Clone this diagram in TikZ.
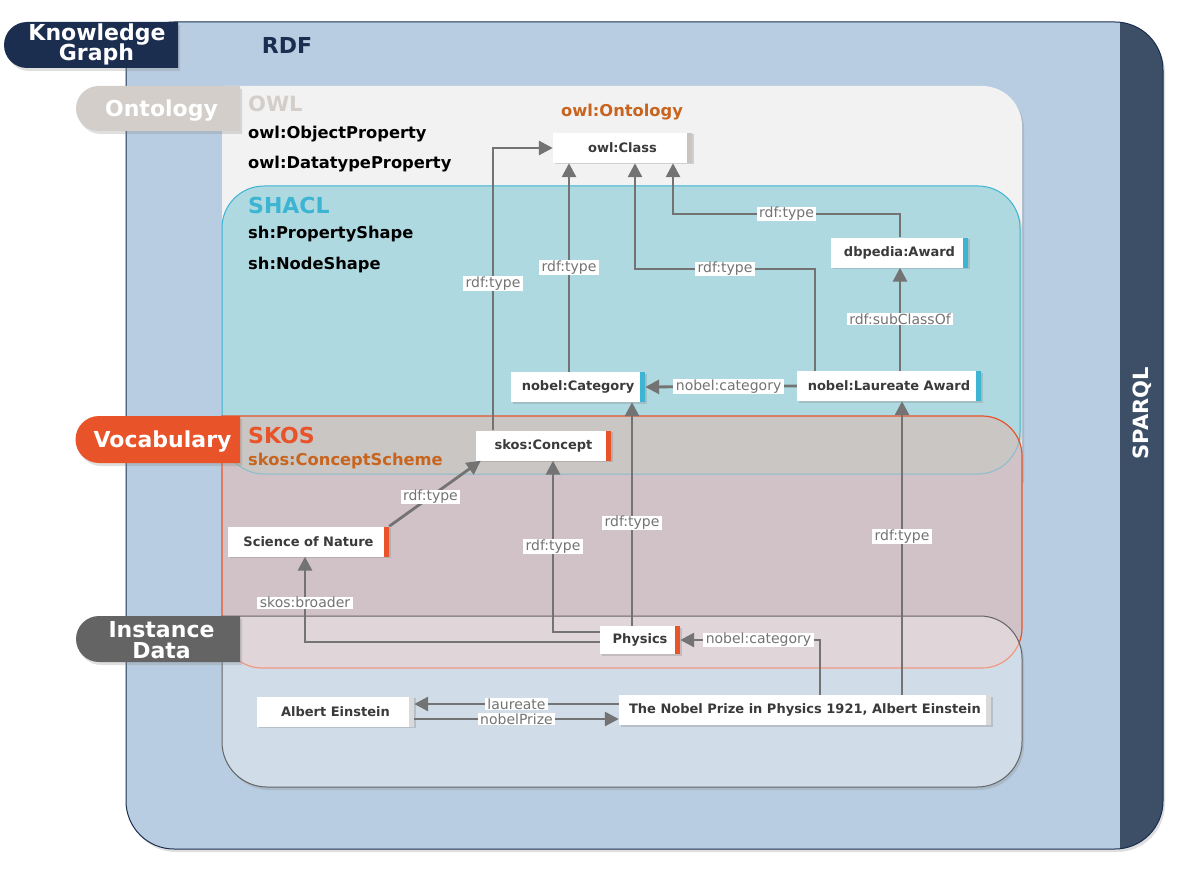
\documentclass[tikz,border=0pt]{standalone}
\usepackage{fontspec}
\setmainfont{DejaVu Sans}
\usetikzlibrary{arrows.meta,shadows}

\definecolor{kgnavy}{HTML}{1C2E50}
\definecolor{rdfblue}{HTML}{B8CDE1}
\definecolor{sparqlblue}{HTML}{3C4F67}
\definecolor{owlgray}{HTML}{F2F2F2}
\definecolor{owltab}{HTML}{D3CEC9}
\definecolor{shaclfill}{HTML}{AED9E0}
\definecolor{shaclline}{HTML}{3CB4D2}
\definecolor{skosred}{HTML}{E8532A}
\definecolor{skosfill}{HTML}{D1C2C7}
\definecolor{skosover}{HTML}{C9C6C3}
\definecolor{ochre}{HTML}{C8641E}
\definecolor{instgray}{HTML}{646464}
\definecolor{instfill}{HTML}{D0DDE9}
\definecolor{instover}{HTML}{E0D6DA}
\definecolor{linkgray}{HTML}{737373}
\definecolor{termtext}{HTML}{3A3A3A}
\definecolor{stripegray}{HTML}{C9C4BF}
\definecolor{stripelight}{HTML}{DADADA}

\newcommand\fs[1]{\fontsize{#1}{#1}\selectfont}

\tikzset{
  term/.style={fill=white, minimum height=30pt, inner sep=0pt, text=termtext,
    font=\fs{13}\bfseries,
    drop shadow={opacity=.3, shadow xshift=1.5pt, shadow yshift=-1.5pt},
    path picture={\fill[#1] ([xshift=-5pt]path picture bounding box.north east)
      rectangle (path picture bounding box.south east);}},
  link/.style={draw=linkgray, line width=2.8pt,
    -{Triangle[length=14pt,width=14pt]}},
  lbl/.style={fill=white, text=linkgray, font=\fs{14},
    inner xsep=2.5pt, inner ysep=0.5pt},
  head/.style={font=\fs{22}\bfseries, inner sep=0pt, anchor=base west},
  sub/.style={font=\fs{16.3}\bfseries, inner sep=0pt, anchor=base west},
  tab/.style={font=\fs{22}\bfseries, text=white, inner sep=0pt, anchor=base},
  layershadow/.style={drop shadow={opacity=.25, shadow xshift=2pt,
    shadow yshift=-3pt}}
}

\begin{document}
\begin{tikzpicture}[x=1pt, y=1pt]

\newcommand\shaclbox{(222,-186) rectangle (1020,-474)}
\newcommand\vocabpath{(222,-416) -- (982,-416)
  arc[start angle=90, end angle=0, radius=40] -- (1022,-628)
  arc[start angle=0, end angle=-90, radius=40] -- (262,-668)
  arc[start angle=270, end angle=180, radius=40] -- cycle}
\newcommand\instpath{(222,-616) -- (980,-616)
  arc[start angle=90, end angle=0, radius=42] -- (1022,-742)
  arc[start angle=0, end angle=-90, radius=45] -- (267,-787)
  arc[start angle=270, end angle=180, radius=45] -- cycle}

\useasboundingbox (0,0) rectangle (1200,-872);

%% RDF layer and SPARQL bar
\fill[rdfblue, layershadow, rounded corners=48pt] (126,-22) rectangle (1163,-849);
\begin{scope}
\clip[rounded corners=48pt] (126,-22) rectangle (1163,-849);
\fill[sparqlblue] (1120,0) rectangle (1200,-872);
\end{scope}
\draw[kgnavy, line width=1pt, rounded corners=48pt] (126,-22) rectangle (1163,-849);
\node[tab, anchor=center, rotate=90, font=\fs{21}\bfseries] (sparql) at (1142,-413) {SPARQL};

\fill[kgnavy, layershadow] (178,-22) -- (27,-22)
  arc[start angle=90, end angle=270, radius=23] -- (178,-68) -- cycle;
\node[tab] (kgtop) at (97,-41) {Knowledge};
\node[tab] (kgbottom) at (96.5,-61) {Graph};
\node[tab, text=kgnavy] (rdf) at (287,-54) {RDF};

%% ontology
\fill[owlgray, layershadow] (222,-86) -- (982,-86)
  arc[start angle=90, end angle=0, radius=40] -- (1022,-480) -- (222,-480) -- cycle;
\fill[owltab, layershadow] (240,-86) -- (98.5,-86)
  arc[start angle=90, end angle=270, radius=22.5] -- (240,-131) -- cycle;
\node[tab] (onto) at (161.5,-117) {Ontology};
\node[head, font=\fs{21}\bfseries, text=owltab] (owl) at (248,-112) {OWL};
\node[sub] (objprop) at (248,-139) {owl:ObjectProperty};
\node[sub] (dtprop) at (248,-169) {owl:DatatypeProperty};
\node[sub, anchor=base, text=ochre] (ontology) at (622,-117) {owl:Ontology};

%% shacl
\fill[shaclfill, layershadow, rounded corners=42pt] \shaclbox;
\draw[shaclline, line width=1pt, rounded corners=42pt] \shaclbox;
\node[head, text=shaclline] (shacl) at (248,-213) {SHACL};
\node[sub] (propshape) at (248,-238) {sh:PropertyShape};
\node[sub] (nodeshape) at (248,-269) {sh:NodeShape};

%% vocabulary
\fill[skosfill] \vocabpath;
\begin{scope}
\clip[rounded corners=42pt] \shaclbox;
\fill[skosover] \vocabpath;
\end{scope}
\begin{scope}
\clip \vocabpath;
\draw[shaclline!45!skosover, line width=1pt, rounded corners=42pt] \shaclbox;
\end{scope}
\draw[skosred, line width=1.2pt] \vocabpath;

%% instance data
\fill[instfill, layershadow] \instpath;
\begin{scope}
\clip \vocabpath;
\fill[instover] \instpath;
\end{scope}
\begin{scope}
\clip \instpath;
\draw[skosred!60!white, line width=1.2pt] \vocabpath;
\end{scope}
\draw[instgray, line width=1pt] \instpath;

\fill[skosred, layershadow] (240,-416) -- (99,-416)
  arc[start angle=90, end angle=270, radius=23.5] -- (240,-463) -- cycle;
\node[tab] (vocab) at (162.5,-447) {Vocabulary};
\node[head, text=skosred] (skos) at (248,-443) {SKOS};
\node[sub, text=ochre] (scheme) at (248,-465) {skos:ConceptScheme};

\fill[instgray, layershadow] (240,-616) -- (99,-616)
  arc[start angle=90, end angle=270, radius=23] -- (240,-662) -- cycle;
\node[tab] (insttop) at (161.5,-637) {Instance};
\node[tab] (instbottom) at (161.5,-658) {Data};

%% terms
\node[term=stripegray, minimum width=139pt] (owlclass) at (622.5,-148) {owl:Class};
\node[term=shaclline, minimum width=137pt] (award) at (899.5,-252.5) {dbpedia:Award};
\node[term=shaclline, minimum width=134pt] (category) at (578,-387) {nobel:Category};
\node[term=shaclline, minimum width=184pt] (laureate) at (889,-386) {nobel:Laureate Award};
\node[term=skosred, minimum width=135pt] (concept) at (543.5,-445.5) {skos:Concept};
\node[term=skosred, minimum width=161pt] (nature) at (308.5,-541.5) {Science of Nature};
\node[term=skosred, minimum width=80pt, minimum height=28pt] (physics) at (640,-640) {Physics};
\node[term=stripelight, minimum width=157pt] (einstein) at (335.5,-711.5) {Albert Einstein};
\node[term=stripelight, minimum width=372pt] (prize) at (805,-710)
  {The Nobel Prize in Physics 1921, Albert Einstein};

%% connector columns and rows
\coordinate (colA) at (493,0);
\coordinate (colB) at (569,0);
\coordinate (colC) at (635,0);
\coordinate (colD) at (673,0);
\coordinate (colE) at (815,0);
\coordinate (colF) at (900,0);
\coordinate (colG) at (553,0);
\coordinate (colH) at (305,0);
\coordinate (colI) at (632,0);
\coordinate (colJ) at (820,0);
\coordinate (colK) at (902,0);
\coordinate (rowA) at (0,-269);
\coordinate (rowB) at (0,-214);

\draw[link] (colA |- concept.north) |- (owlclass.west) node[lbl, pos=.26] {rdf:type};
\draw[link] (colB |- category.north) -- (colB |- owlclass.south) node[lbl, midway] {rdf:type};
\draw[link] (colE |- laureate.north) -- (colE |- rowA) -- (colC |- rowA)
  node[lbl, midway] {rdf:type} -- (colC |- owlclass.south);
\draw[link] (colF |- award.north) -- (colF |- rowB) -- (colD |- rowB)
  node[lbl, midway] {rdf:type} -- (colD |- owlclass.south);
\draw[link] (colF |- laureate.north) -- (colF |- award.south) node[lbl, midway] {rdf:subClassOf};
\draw[link] (laureate.west) -- (category.east) node[lbl, pos=.45] {nobel:category};
\draw[link] (nature.north east) -- ([xshift=5pt]concept.south west) node[lbl, pos=.45] {rdf:type};
\draw[link] ([yshift=-2pt]physics.west) -| (colH |- nature.south) node[lbl, pos=.73] {skos:broader};
\draw[link] ([yshift=8pt]physics.west) -| (colG |- concept.south) node[lbl, pos=.75] {rdf:type};
\draw[link] (colI |- physics.north) -- (colI |- category.south) node[lbl, pos=.46] {rdf:type};
\draw[link] (colJ |- prize.north) |- (physics.east) node[lbl, pos=.72] {nobel:category};
\draw[link] (colK |- prize.north) -- (colK |- laureate.south) node[lbl, pos=.54] {rdf:type};
\draw[link] ([yshift=6pt]prize.west) -- ([yshift=7.5pt]einstein.east) node[lbl, midway] {laureate};
\draw[link] ([yshift=-7.5pt]einstein.east) -- ([yshift=-9pt]prize.west) node[lbl, midway] {nobelPrize};

\end{tikzpicture}
\end{document}
